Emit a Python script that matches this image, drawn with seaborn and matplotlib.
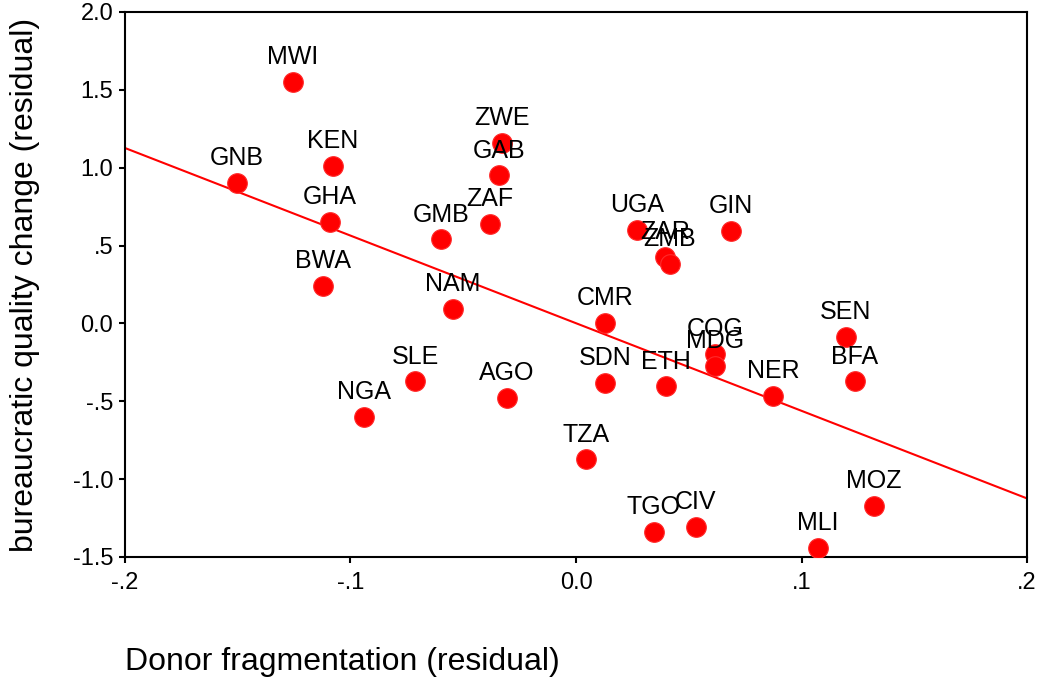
import numpy as np
import pandas as pd
import matplotlib
matplotlib.use('Agg')
import matplotlib.pyplot as plt
import seaborn as sns

# datos
paises = ['MWI', 'GNB', 'KEN', 'GHA', 'BWA', 'ZWE', 'GAB', 'ZAF', 'GMB', 'NAM',
          'SLE', 'NGA', 'AGO', 'CMR', 'SDN', 'TZA', 'UGA', 'ZAR', 'ZMB', 'ETH',
          'GIN', 'COG', 'MDG', 'NER', 'TGO', 'CIV', 'MLI', 'MOZ', 'SEN', 'BFA']
frag = [-0.1255, -0.1503, -0.1078, -0.1091, -0.1122, -0.0328, -0.0341, -0.0381, -0.0599, -0.0545,
        -0.0714, -0.0940, -0.0306, 0.0129, 0.0129, 0.0044, 0.0270, 0.0395, 0.0417, 0.0399,
        0.0687, 0.0616, 0.0616, 0.0874, 0.0346, 0.0532, 0.1073, 0.1322, 0.1197, 0.1237]
burocracia = [1.551, 0.902, 1.011, 0.652, 0.241, 1.159, 0.953, 0.639, 0.542, 0.093,
              -0.370, -0.601, -0.479, 0.003, -0.382, -0.871, 0.600, 0.427, 0.382, -0.402,
              0.594, -0.196, -0.273, -0.466, -1.339, -1.307, -1.442, -1.172, -0.087, -0.370]

xticks = [-0.2, -0.1, 0.0, 0.1, 0.2]
xtick_labels = ['-.2', '-.1', '0.0', '.1', '.2']
yticks = [-1.5, -1.0, -0.5, 0.0, 0.5, 1.0, 1.5, 2.0]
ytick_labels = ['-1.5', '-1.0', '-.5', '0.0', '.5', '1.0', '1.5', '2.0']

df = pd.DataFrame({'pais': paises, 'frag': frag, 'buro': burocracia})

sns.set_style('ticks')
plt.rcParams['font.family'] = ['Liberation Sans', 'DejaVu Sans']
plt.rcParams['text.color'] = 'black'
plt.rcParams['axes.labelcolor'] = 'black'

fig = plt.figure(figsize=(10.37, 6.84), dpi=100)
ax = fig.add_axes([0.1205, 0.1857, 0.8699, 0.7968])

# recta de regresion sobre todo el eje
pendiente, intercepto = np.polyfit(df['frag'], df['buro'], 1)
xs = np.array([-0.2, 0.2])
sns.lineplot(x=xs, y=intercepto + pendiente * xs, color='red', linewidth=1.5, ax=ax)

sns.scatterplot(x='frag', y='buro', data=df, color='#ff0000', edgecolor='#ff2a2a',
                linewidth=0.8, s=200, ax=ax, zorder=3)

for _, fila in df.iterrows():
    ax.annotate(fila['pais'], (fila['frag'], fila['buro']), xytext=(0, 9),
                textcoords='offset points', ha='center', va='bottom', fontsize=18)

ax.set_xlim(-0.2, 0.2)
ax.set_ylim(-1.5, 2.0)
ax.set_xticks(xticks)
ax.set_xticklabels(xtick_labels)
ax.set_yticks(yticks)
ax.set_yticklabels(ytick_labels)
ax.tick_params(labelsize=17, length=4.5, width=1.5, colors='black')
ax.tick_params(axis='x', pad=6)
ax.tick_params(axis='y', pad=4)
for lado in ['top', 'right', 'left', 'bottom']:
    ax.spines[lado].set_visible(True)
    ax.spines[lado].set_linewidth(1.5)
    ax.spines[lado].set_color('black')

ax.set_xlabel('Donor fragmentation (residual)', fontsize=23)
ax.xaxis.set_label_coords(0.0, -0.165)
ax.xaxis.label.set_horizontalalignment('left')
ax.set_ylabel('bureaucratic quality change (residual)', fontsize=23)
ax.yaxis.set_label_coords(-0.094, 0.5)

plt.savefig('out.png', dpi=100)
